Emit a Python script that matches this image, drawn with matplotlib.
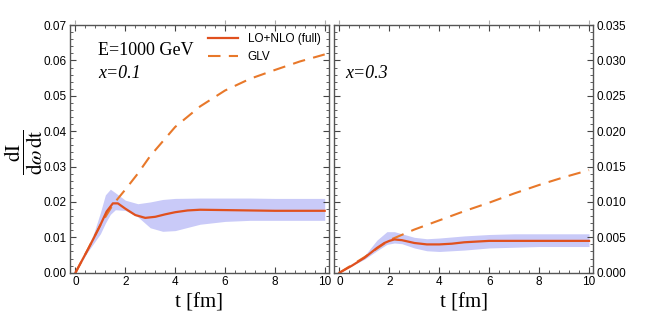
import matplotlib
matplotlib.use("Agg")
import matplotlib.pyplot as plt
from matplotlib.ticker import AutoMinorLocator, MultipleLocator, FormatStrFormatter

plt.rcParams['font.family'] = ['Liberation Sans', 'DejaVu Sans']
plt.rcParams['mathtext.fontset'] = 'stix'

# x = 0.1 panel
t_full_a = [0, 0.25, 0.5, 0.75, 1.0, 1.25, 1.5, 1.7, 2.0, 2.4, 2.8, 3.2, 3.6, 4.0, 4.5, 5.0, 6.0, 7.0, 8.0, 9.0, 10.0]
full_a = [0, 0.0033, 0.0066, 0.0100, 0.0135, 0.0173, 0.0196, 0.0196, 0.0181, 0.0163, 0.0155, 0.0158, 0.0165, 0.0171, 0.0176, 0.0178, 0.0177, 0.0176, 0.0175, 0.0175, 0.0175]
t_glv_a = [0, 0.5, 1.0, 1.5, 2.0, 2.5, 3.0, 4.0, 5.0, 6.0, 7.0, 8.0, 9.0, 10.0]
glv_a = [0, 0.0066, 0.0135, 0.0192, 0.0235, 0.0280, 0.0330, 0.0412, 0.0470, 0.0515, 0.0548, 0.0573, 0.0597, 0.0617]
t_band_a = [0, 0.25, 0.5, 0.75, 1.0, 1.2, 1.4, 1.6, 2.0, 2.5, 3.0, 3.5, 4.0, 5.0, 6.0, 7.0, 8.0, 9.0, 10.0]
band_hi_a = [0, 0.0035, 0.0072, 0.0115, 0.0170, 0.0220, 0.0236, 0.0226, 0.0205, 0.0195, 0.0200, 0.0207, 0.0210, 0.0211, 0.0211, 0.0211, 0.0210, 0.0210, 0.0210]
band_lo_a = [0, 0.0031, 0.0060, 0.0085, 0.0110, 0.0140, 0.0165, 0.0178, 0.0176, 0.0158, 0.0127, 0.0117, 0.0119, 0.0137, 0.0145, 0.0148, 0.0148, 0.0148, 0.0148]

# x = 0.3 panel
t_full_b = [0, 0.5, 1.0, 1.5, 1.8, 2.0, 2.2, 2.5, 3.0, 3.5, 4.0, 4.5, 5.0, 6.0, 7.0, 8.0, 9.0, 10.0]
full_b = [0, 0.0010, 0.0021, 0.0035, 0.0042, 0.0045, 0.0047, 0.0046, 0.0042, 0.0040, 0.0040, 0.0041, 0.0043, 0.0045, 0.0045, 0.0045, 0.0045, 0.0045]
t_glv_b = [0, 0.5, 1.0, 1.5, 2.0, 3.0, 4.0, 5.0, 6.0, 7.0, 8.0, 9.0, 10.0]
glv_b = [0, 0.0011, 0.0022, 0.0034, 0.0046, 0.0061, 0.0074, 0.0087, 0.0099, 0.0112, 0.0124, 0.0135, 0.0145]
t_band_b = [0, 0.5, 1.0, 1.5, 1.9, 2.2, 2.5, 3.0, 3.5, 4.0, 5.0, 6.0, 7.0, 8.0, 9.0, 10.0]
band_hi_b = [0, 0.0011, 0.0024, 0.0046, 0.0058, 0.0058, 0.0055, 0.0050, 0.0048, 0.0049, 0.0052, 0.0054, 0.0055, 0.0055, 0.0055, 0.0055]
band_lo_b = [0, 0.0010, 0.0019, 0.0031, 0.0040, 0.0042, 0.0041, 0.0035, 0.0031, 0.0030, 0.0032, 0.0035, 0.0036, 0.0037, 0.0037, 0.0037]

# faint marks sitting above the top frame
top_marks = [0, 6, 8, 10]

solid_c = '#e0501e'
dash_c = '#e8782a'
band_c = '#c9caf8'

fig = plt.figure(figsize=(6.64, 3.34), dpi=100)
ax1 = fig.add_axes([0.1054, 0.1835, 0.39, 0.7415])
ax2 = fig.add_axes([0.503, 0.1835, 0.3905, 0.7415])

panels = [
    (ax1, t_full_a, full_a, t_glv_a, glv_a, t_band_a, band_hi_a, band_lo_a, 0.07, 0.01),
    (ax2, t_full_b, full_b, t_glv_b, glv_b, t_band_b, band_hi_b, band_lo_b, 0.035, 0.005),
]
for ax, tf, f, tg, g, tb, hi, lo, ymax, ystep in panels:
    ax.fill_between(tb, lo, hi, color=band_c, lw=0)
    ax.plot(tg, g, color=dash_c, lw=1.5, dashes=(6, 4), label='GLV')
    ax.plot(tf, f, color=solid_c, lw=1.6, label='LO+NLO (full)')
    ax.plot(top_marks, [ymax * 1.012] * len(top_marks), ls='none', marker='|', ms=3,
            mew=0.8, color='#aaaaaa', clip_on=False)
    ax.set_xlim(-0.22, 10.17)
    ax.set_ylim(0, ymax)
    ax.xaxis.set_major_locator(MultipleLocator(2))
    ax.xaxis.set_minor_locator(AutoMinorLocator(5))
    ax.yaxis.set_major_locator(MultipleLocator(ystep))
    ax.yaxis.set_minor_locator(AutoMinorLocator(5))
    ax.tick_params(which='both', direction='in', top=True, bottom=True, left=True, right=True,
                   labelsize=8.5, color='#444444', pad=2.5)
    ax.tick_params(which='major', length=4)
    ax.tick_params(which='minor', length=2)
    for s in ax.spines.values():
        s.set_color('#555555')
        s.set_linewidth(1.0)
    ax.set_xlabel('t [fm]', family='Liberation Serif', fontsize=15, labelpad=4)

ax1.yaxis.set_major_formatter(FormatStrFormatter('%.2f'))
ax2.yaxis.set_major_formatter(FormatStrFormatter('%.3f'))
ax2.tick_params(labelleft=False, labelright=True)

h, l = ax1.get_legend_handles_labels()
ax1.legend(h[::-1], l[::-1], loc='upper right', frameon=False, fontsize=8.5,
           handlelength=2.6, borderaxespad=0.3, bbox_to_anchor=(1.0, 1.0))

ax1.text(0.11, 0.93, 'E=1000 GeV', transform=ax1.transAxes, family='Liberation Serif',
         fontsize=13, va='top')
ax1.text(0.11, 0.84, 'x=0.1', transform=ax1.transAxes, family='Liberation Serif',
         style='italic', fontsize=13, va='top')
ax2.text(0.045, 0.84, 'x=0.3', transform=ax2.transAxes, family='Liberation Serif',
         style='italic', fontsize=13, va='top')

fig.text(0.036, 0.545, r'$\dfrac{\mathrm{dI}}{\mathrm{d}\omega\,\mathrm{dt}}$', fontsize=15,
         ha='center', va='center', rotation=90)

fig.savefig('out.png', dpi=100)
